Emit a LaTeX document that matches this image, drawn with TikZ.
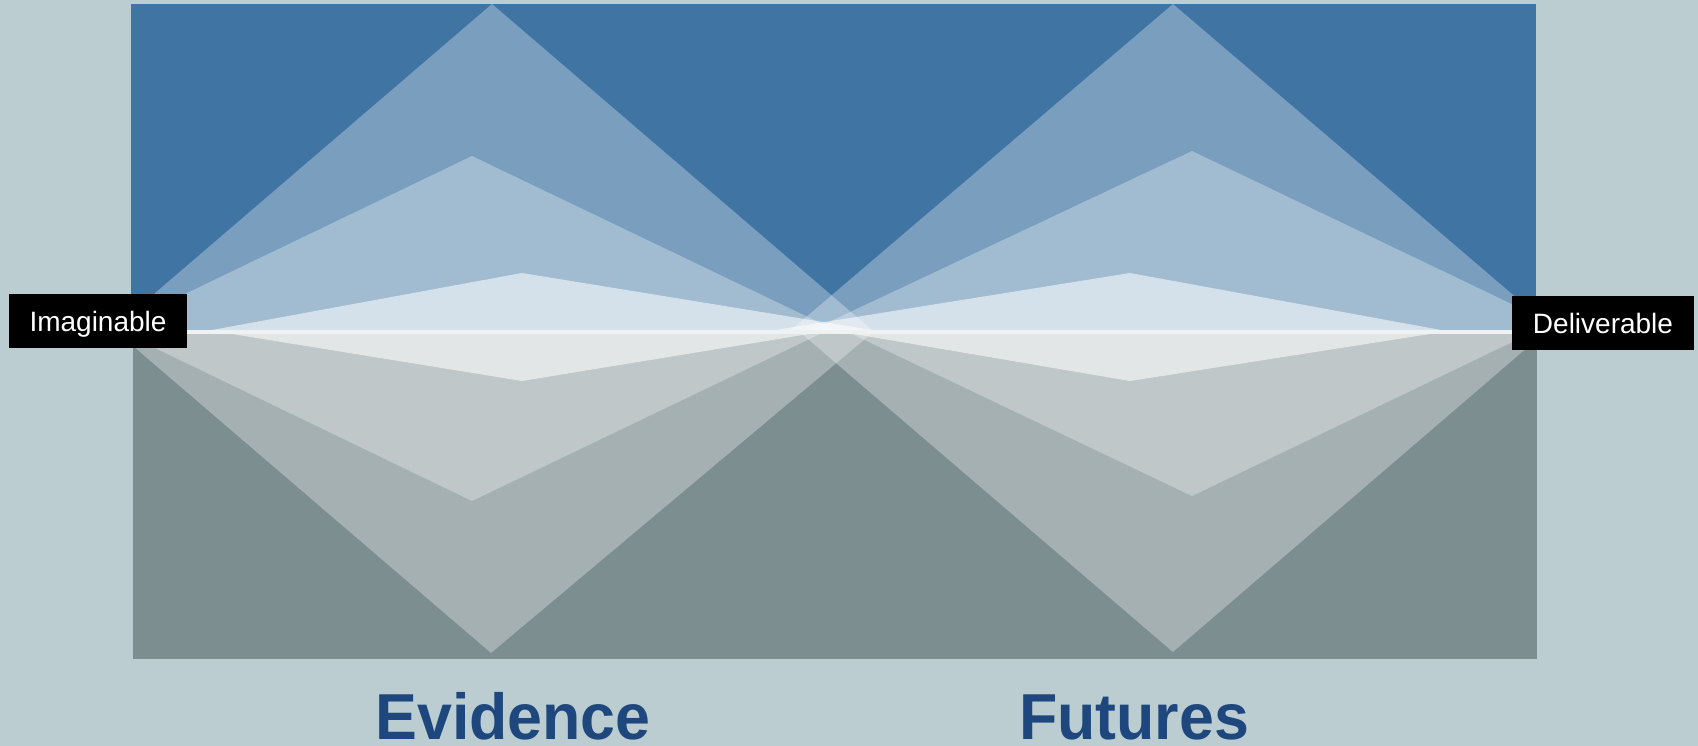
\documentclass[tikz,border=0pt]{standalone}
\usepackage{fontspec}
\usepackage{graphicx}
\setmainfont{Liberation Sans}
\definecolor{bg}{HTML}{BBCDD1}
\definecolor{topblue}{HTML}{4075A3}
\definecolor{botgray}{HTML}{7D8E91}
\definecolor{linewhite}{HTML}{EFF2F3}
\definecolor{titleblue}{HTML}{1E487D}
\begin{document}
\begin{tikzpicture}[x=1pt,y=-1pt,
  veil/.style={fill=white, fill opacity=0.3},
  veilsmall/.style={fill=white, fill opacity=0.56},
  tag/.style={fill=black, text=white, inner sep=0pt,
    font=\fontsize{28}{30}\selectfont, text height=20pt, text depth=0pt},
  title/.style={text=titleblue, inner sep=0pt, anchor=base,
    font=\fontsize{65}{70}\selectfont\bfseries}]
\useasboundingbox (0,0) rectangle (1698,746);
\fill[bg] (0,0) rectangle (1698,746);
% upper panel
\fill[topblue] (131,4.5) rectangle (1535.5,330);
\begin{scope}
  \clip (131,4.5) rectangle (1535.5,330);
  \fill[veil] (112,330) -- (492,4) -- (872,330) -- cycle;
  \fill[veil] (110,330) -- (472,156) -- (835,330) -- cycle;
  \fill[veilsmall] (212,330) -- (522,273) -- (872,330) -- cycle;
  \fill[veil] (791,330) -- (1173,4) -- (1554,330) -- cycle;
  \fill[veil] (812,330) -- (1192,151) -- (1566,330) -- cycle;
  \fill[veilsmall] (775,330) -- (1130,273) -- (1441,330) -- cycle;
\end{scope}
% lower panel
\fill[botgray] (133,334) rectangle (1537,659);
\begin{scope}
  \clip (133,334) rectangle (1537,659);
  \fill[veil] (119,334) -- (491,653) -- (871,334) -- cycle;
  \fill[veil] (126,334) -- (472,501) -- (820,334) -- cycle;
  \fill[veilsmall] (232,334) -- (522,381) -- (809,334) -- cycle;
  \fill[veil] (802,334) -- (1173,652) -- (1543,334) -- cycle;
  \fill[veil] (852,334) -- (1192,496) -- (1529,334) -- cycle;
  \fill[veilsmall] (854,334) -- (1130,381) -- (1430,334) -- cycle;
\end{scope}
% horizon line
\fill[linewhite] (131,330) rectangle (1537,334);
% labels
\node[tag, minimum width=178pt, minimum height=54pt] (imag) at (98,321) {Imaginable};
\node[tag, minimum width=182pt, minimum height=54pt] (deliv) at (1603,323) {Deliverable};
\node[title] (evid) at (513,739) {\scalebox{0.965}[1]{Evidence}};
\node[title] (fut) at (1134,739) {\scalebox{0.965}[1]{Futures}};
\end{tikzpicture}
\end{document}
